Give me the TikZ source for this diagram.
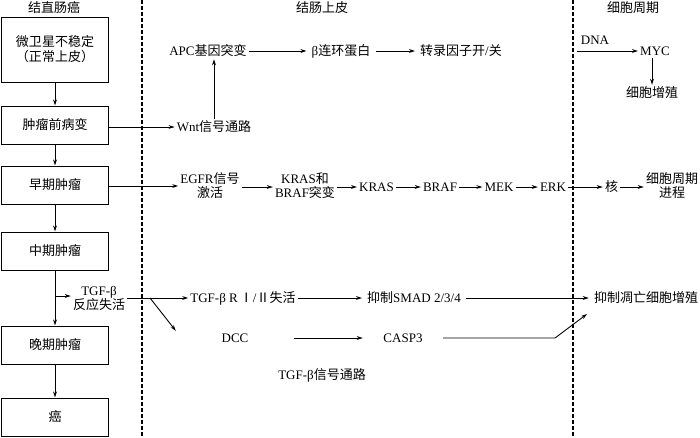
\documentclass[tikz,border=0pt]{standalone}
\usepackage{fontspec}
\setmainfont{Liberation Serif}
\newfontfamily\cjkf{Noto Sans CJK SC}
\newcommand{\zh}[1]{{\cjkf #1}}
\usetikzlibrary{arrows.meta}
\begin{document}
\begin{tikzpicture}[x=1pt,y=-1pt,
  every node/.style={font=\fontsize{13}{16}\selectfont, inner sep=2pt, align=center},
  stagebox/.style={draw, line width=1pt, minimum width=107, minimum height=38},
  arr/.style={line width=0.9pt, -{Stealth[length=6pt,width=3.8pt]}},
  divider/.style={line width=1.1pt, dash pattern=on 4pt off 2pt}]
\useasboundingbox (0,0) rectangle (700,437);
% headers
\node (h1) at (54,8) {\zh{结直肠癌}};
\node (h2) at (322,8) {\zh{结肠上皮}};
\node (h3) at (633,8) {\zh{细胞周期}};
% dividers
\coordinate (d1t) at (142,0); \coordinate (d1b) at (142,437);
\coordinate (d2t) at (573,0); \coordinate (d2b) at (573,437);
\draw[divider] (d1t) -- (d1b);
\draw[divider] (d2t) -- (d2b);
% stage boxes
\node[stagebox, minimum height=65] (b1) at (55,49.5) {\zh{微卫星不稳定}\\[-1pt]\zh{（正常上皮）}};
\node[stagebox] (b2) at (55,125) {\zh{肿瘤前病变}};
\node[stagebox] (b3) at (55,185) {\zh{早期肿瘤}};
\node[stagebox] (b4) at (55,251) {\zh{中期肿瘤}};
\node[stagebox] (b5) at (55,345) {\zh{晚期肿瘤}};
\node[stagebox] (b6) at (55,417) {\zh{癌}};
\draw[arr] (b1) -- (b2);
\draw[arr] (b2) -- (b3);
\draw[arr] (b3) -- (b4);
\draw[arr] (b4) -- (b5);
\draw[arr] (b5) -- (b6);
% Wnt row
\node (wnt) at (214,127) {Wnt\zh{信号通路}};
\node (apc) at (208,51) {APC\zh{基因突变}};
\node[inner sep=5pt] (beta) at (341,51) {β\zh{连环蛋白}};
\node[inner sep=5pt] (trans) at (461,51) {\zh{转录因子开}/\zh{关}};
\draw[arr] (b2.east |- wnt) -- (wnt.west);
\draw[arr] (wnt.north) -- (wnt.north |- apc.south);
\draw[arr] (apc.east) -- (beta.west);
\draw[arr] (beta.east) -- (trans.west);
% cell cycle top
\node (dna) at (595,40) {DNA};
\node (myc) at (655,51) {MYC};
\node (prolif) at (652,93) {\zh{细胞增殖}};
\coordinate (dnas) at (577,51);
\draw[arr] (dnas) -- (myc.west);
\draw[arr] (myc.south -| prolif) -- (prolif.north);
% EGFR row
\node (egfr) at (210,186) {EGFR\zh{信号}\\[-2pt]\zh{激活}};
\node (krasbraf) at (305,186) {KRAS\zh{和}\\[-2pt]BRAF\zh{突变}};
\node (kras) at (376.5,187) {KRAS};
\node (braf) at (440,187) {BRAF};
\node (mek) at (499,187) {MEK};
\node (erk) at (553,187) {ERK};
\node (nuc) at (611.5,187) {\zh{核}};
\node (cc) at (672,186) {\zh{细胞周期}\\[-2pt]\zh{进程}};
\draw[arr] (b3.east |- egfr) -- (egfr.west);
\draw[arr] (egfr.east |- kras) -- (krasbraf.west |- kras);
\draw[arr] (krasbraf.east |- kras) -- (kras.west);
\draw[arr] (kras.east) -- (braf.west);
\draw[arr] (braf.east) -- (mek.west);
\draw[arr] (mek.east) -- (erk.west);
\draw[arr] (erk.east) -- (nuc.west);
\draw[arr] (nuc.east) -- (cc.west |- nuc);
% TGF row
\node (tgf) at (99,298) {TGF-β\\[-2pt]\zh{反应失活}};
\coordinate (br) at (55,296);
\draw[arr] (br) -- (tgf.west |- br);
\node (r12) at (243,298) {TGF-β R\,\zh{Ⅰ}/\zh{Ⅱ}\zh{失活}};
\node[inner sep=5pt] (smad) at (414,298) {\zh{抑制}SMAD 2/3/4};
\node[inner sep=5pt] (inhib) at (646,298) {\zh{抑制凋亡细胞增殖}};
\draw[arr] (tgf.east |- r12) -- (r12.west);
\draw[arr] (r12.east) -- (smad.west);
\draw[arr] (smad.east) -- (inhib.west);
\node[minimum width=118, minimum height=14, inner sep=0pt] (dcc) at (235,338) {DCC};
\node[minimum width=80, inner sep=2pt] (casp) at (403,338) {CASP3};
\coordinate (split) at (150,298);
\draw[arr] (split) -- (dcc.north west);
\draw[arr] (dcc.east) -- (casp.west);
\coordinate (bend) at (555,338);
\coordinate (inhibin) at (587,314);
\draw[arr] (casp.east) -- (bend) -- (inhibin);
\node (tgfpath) at (322,375) {TGF-β\zh{信号通路}};
\end{tikzpicture}
\end{document}
